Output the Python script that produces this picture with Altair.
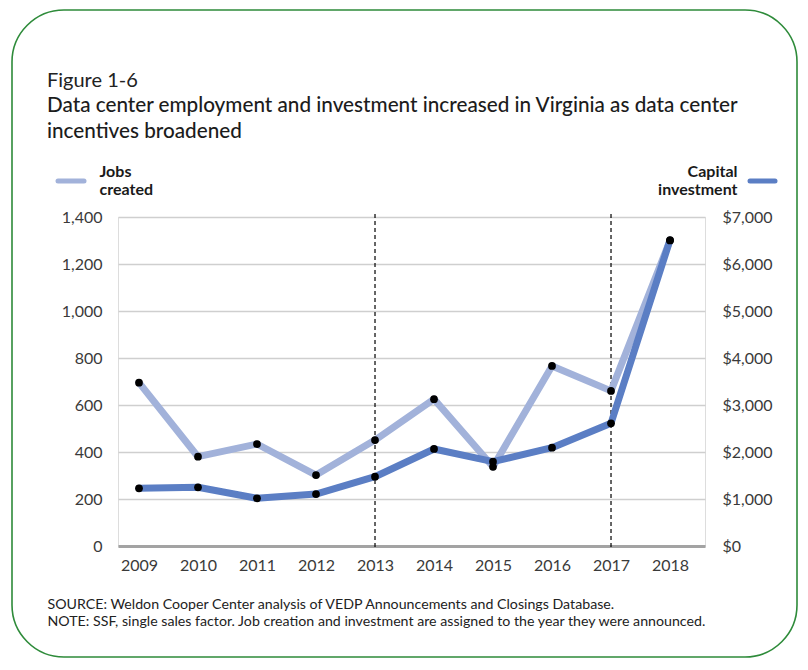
import altair as alt
import pandas as pd

# ---------------- data ----------------
years = [2009, 2010, 2011, 2012, 2013, 2014, 2015, 2016, 2017, 2018]
jobs_created = [695, 380, 434, 302, 451, 625, 337, 766, 660, 1300]
capital_investment = [1228, 1249, 1015, 1106, 1474, 2064, 1794, 2092, 2611, 6510]
policy_years = [2013, 2017]
jobs_ticks = [0, 200, 400, 600, 800, 1000, 1200, 1400]
capital_ticks = [0, 1000, 2000, 3000, 4000, 5000, 6000, 7000]

fig_label = "Figure 1-6"
title_lines = [
    "Data center employment and investment increased in Virginia as data center",
    "incentives broadened",
]
left_legend = ["Jobs", "created"]
right_legend = ["Capital", "investment"]
notes = [
    "SOURCE: Weldon Cooper Center analysis of VEDP Announcements and Closings Database.",
    "NOTE: SSF, single sales factor. Job creation and investment are assigned to the year they were announced.",
]

# ---------------- style ----------------
FONT = "Lato"
LIGHT = "#a2b2da"
DARK = "#5b7ec4"
GREEN = "#2e8b3a"
W, H = 587, 329

df = pd.DataFrame({"year": years, "jobs": jobs_created, "capital": capital_investment})
rules_df = pd.DataFrame({"year": policy_years})
one = pd.DataFrame({"k": [0]})

x_scale = alt.Scale(domain=[2008.644, 2018.593], nice=False, zero=False)
x_axis = alt.Axis(
    values=years, format="d", ticks=False, grid=False,
    labelFontSize=16, labelColor="#3a3a3a", labelPadding=11, labelFont=FONT,
    domain=True, domainColor="#a3a3a3", domainWidth=3,
    title=notes, titleFont=FONT, titleFontSize=14.2, titleFontWeight="normal",
    titleColor="#222222", titleAlign="left", titleBaseline="alphabetic",
    titleX=-71, titleY=62, titleLineHeight=17,
)
x_enc = alt.X("year:Q", scale=x_scale, axis=x_axis)

jobs_scale = alt.Scale(domain=[0, 1400], nice=False)
cap_scale = alt.Scale(domain=[0, 7000], nice=False)

dashed = alt.Chart(rules_df).mark_rule(color="black", strokeWidth=1.2, strokeDash=[4, 3]).encode(
    x=x_enc, y=alt.value(-3), y2=alt.value(H + 3)
)

jobs_line = alt.Chart(df).mark_line(color=LIGHT, strokeWidth=7, strokeCap="round", strokeJoin="round").encode(
    x=x_enc,
    y=alt.Y(
        "jobs:Q", scale=jobs_scale,
        axis=alt.Axis(
            orient="left", values=jobs_ticks, format=",d", ticks=False, domain=False,
            grid=True, gridColor="#cfcfcf", gridWidth=1.5,
            labelFontSize=16, labelColor="#3a3a3a", labelPadding=16, labelFont=FONT,
            title=left_legend, titleAngle=0, titleFont=FONT, titleFontSize=16,
            titleFontWeight="bold", titleColor="#1a1a1a", titleAlign="left",
            titleBaseline="alphabetic", titleX=-19, titleY=-41, titleLineHeight=18,
        ),
    ),
)

cap_line = alt.Chart(df).mark_line(color=DARK, strokeWidth=7, strokeCap="round", strokeJoin="round").encode(
    x=x_enc,
    y=alt.Y(
        "capital:Q", scale=cap_scale,
        axis=alt.Axis(
            orient="right", values=capital_ticks, format="$,d", ticks=False, domain=False,
            grid=False,
            labelFontSize=16, labelColor="#3a3a3a", labelPadding=17, labelFont=FONT,
            title=right_legend, titleAngle=0, titleFont=FONT, titleFontSize=16,
            titleFontWeight="bold", titleColor="#1a1a1a", titleAlign="right",
            titleBaseline="alphabetic", titleX=32, titleY=-41, titleLineHeight=18,
        ),
    ),
)

jobs_pts = alt.Chart(df).mark_circle(color="black", size=60, opacity=1).encode(
    x=x_enc, y=alt.Y("jobs:Q", scale=jobs_scale, axis=None)
)
cap_pts = alt.Chart(df).mark_circle(color="black", size=60, opacity=1).encode(
    x=x_enc, y=alt.Y("capital:Q", scale=cap_scale, axis=None)
)

swatch_left = alt.Chart(one).mark_rule(color=LIGHT, strokeWidth=5, strokeCap="round").encode(
    x=alt.value(-60), x2=alt.value(-34), y=alt.value(-36)
)
swatch_right = alt.Chart(one).mark_rule(color=DARK, strokeWidth=5, strokeCap="round").encode(
    x=alt.value(W + 45), x2=alt.value(W + 70), y=alt.value(-36)
)

border = alt.Chart(one).mark_rect(
    filled=False, color=GREEN, strokeWidth=1.6, cornerRadius=52
).encode(
    x=alt.value(-106), x2=alt.value(679), y=alt.value(-207), y2=alt.value(440)
)

chart = alt.layer(
    dashed, jobs_line, cap_line, jobs_pts, cap_pts, swatch_left, swatch_right, border
).resolve_scale(y="independent").properties(
    width=W,
    height=H,
    autosize=alt.AutoSizeParams(type="none"),
    padding={"left": 110, "top": 209, "right": 95, "bottom": 112},
    title=alt.TitleParams(
        text=fig_label, subtitle=title_lines, anchor="start", frame="group",
        font=FONT, fontSize=20, fontWeight="normal", color="#222222",
        subtitleFont=FONT, subtitleFontSize=20.7, subtitleFontWeight=500,
        subtitleColor="#1c1c1c", subtitleLineHeight=26, subtitlePadding=5,
        offset=0, dx=-71, dy=132,
    ),
).configure_view(stroke=None).configure(background="white")

chart.save("out.html", embed_options={"renderer": "svg", "actions": False})
